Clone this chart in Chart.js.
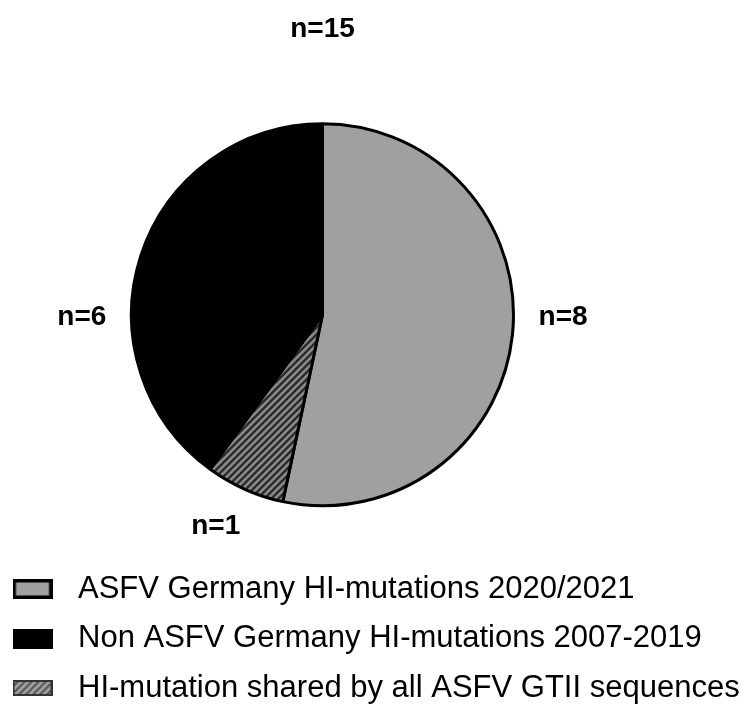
<!DOCTYPE html>
<html>
<head>
<meta charset="utf-8">
<script src="https://cdn.jsdelivr.net/npm/chart.js@4.4.1/dist/chart.umd.min.js"></script>
<style>
  html, body { margin: 0; padding: 0; background: #fff; }
  #wrap { width: 750px; height: 709px; position: relative; }
</style>
</head>
<body>
<div id="wrap"><canvas id="pieChart"></canvas></div>
<script>
    // slices go clockwise from 12 o'clock
    let categories = [
        "ASFV Germany HI-mutations 2020/2021",
        "HI-mutation shared by all ASFV GTII sequences",
        "Non ASFV Germany HI-mutations 2007-2019"
    ];
    let counts = [8, 1, 6];
    let legendOrder = [0, 2, 1];
    let totalText = "n=15";
    let sliceText = ["n=8", "n=1", "n=6"];

    Chart.defaults.font.family = "'Liberation Sans', Arial, sans-serif";
    Chart.defaults.color = "#000";

    // diagonal hatch tile
    function hatchTile(bg, line, size, lw) {
        let c = document.createElement("canvas");
        c.width = size; c.height = size;
        let g = c.getContext("2d");
        g.fillStyle = bg;
        g.fillRect(0, 0, size, size);
        g.strokeStyle = line;
        g.lineWidth = lw;
        g.beginPath();
        g.moveTo(-1, size + 1); g.lineTo(size + 1, -1);
        g.moveTo(-2, 2); g.lineTo(2, -2);
        g.moveTo(size - 2, size + 2); g.lineTo(size + 2, size - 2);
        g.stroke();
        return c;
    }

    let ctx = document.getElementById("pieChart").getContext("2d");
    let hatch = ctx.createPattern(hatchTile("#8a8a8a", "#2b2b2b", 7, 2.4), "repeat");
    let colors = ["#a0a0a0", hatch, "#000000"];

    // legend icons (drawn as point-style images)
    function icon(fill, stroke, lw, h) {
        let c = document.createElement("canvas");
        c.width = 40; c.height = h;
        let g = c.getContext("2d");
        g.fillStyle = fill;
        g.fillRect(0, 0, 40, h);
        if (lw > 0) {
            g.strokeStyle = stroke;
            g.lineWidth = lw;
            g.strokeRect(lw / 2, lw / 2, 40 - lw, h - lw);
        }
        return c;
    }
    let smallHatch = hatchTile("#a0a0a0", "#555", 7, 2);
    let hatchIcon = icon("#a0a0a0", "#333", 0, 16);
    let hg = hatchIcon.getContext("2d");
    hg.fillStyle = hg.createPattern(smallHatch, "repeat");
    hg.fillRect(0, 0, 40, 16);
    hg.strokeStyle = "#333"; hg.lineWidth = 2;
    hg.strokeRect(1, 1, 38, 14);
    let icons = [icon("#a0a0a0", "#000", 3.5, 20), hatchIcon, icon("#000", "#000", 0, 20)];

    // empty box on the right so the pie sits left of centre
    let rightSpacer = {
        id: "rightSpacer",
        beforeInit(chart) {
            Chart.layouts.addBox(chart, {
                position: "right",
                weight: 0,
                fullSize: false,
                options: {},
                isHorizontal: () => false,
                update(w, h) { this.width = 105; this.height = h; },
                draw() {}
            });
        }
    };

    let sliceLabels = {
        id: "sliceLabels",
        afterDatasetsDraw(chart, args, opts) {
            let c = chart.ctx;
            let meta = chart.getDatasetMeta(0);
            c.save();
            c.font = "bold 28px 'Liberation Sans', Arial, sans-serif";
            c.fillStyle = "#000";
            c.textAlign = "center";
            c.textBaseline = "middle";
            meta.data.forEach((arc, i) => {
                let p = arc.getProps(["x", "y", "startAngle", "endAngle", "outerRadius"], true);
                let a = (p.startAngle + p.endAngle) / 2 + opts.nudge[i] * Math.PI / 180;
                let hw = c.measureText(sliceText[i]).width / 2;
                let d = p.outerRadius + opts.gap + Math.abs(Math.cos(a)) * hw + Math.abs(Math.sin(a)) * 11;
                c.fillText(sliceText[i], p.x + Math.cos(a) * d, p.y + Math.sin(a) * d);
            });
            c.restore();
        }
    };

    new Chart(ctx, {
        type: "pie",
        data: {
            labels: categories,
            datasets: [{
                data: counts,
                backgroundColor: colors,
                borderColor: "#000",
                borderWidth: 3,
                radius: 191
            }]
        },
        options: {
            responsive: true,
            maintainAspectRatio: false,
            animation: false,
            events: [],
            layout: { padding: { left: -16, right: 0, top: 0, bottom: -4.5 } },
            plugins: {
                tooltip: { enabled: false },
                title: {
                    display: true,
                    fullSize: false,
                    text: totalText,
                    font: { size: 28, weight: "bold" },
                    padding: { top: 12, bottom: 29 }
                },
                legend: {
                    position: "bottom",
                    align: "start",
                    labels: {
                        usePointStyle: true,
                        pointStyleWidth: 60,
                        boxHeight: 20,
                        padding: 18.5,
                        font: { size: 31 },
                        color: "#000",
                        generateLabels: () => legendOrder.map(i => ({
                            text: categories[i],
                            pointStyle: icons[i],
                            fillStyle: "#000",
                            strokeStyle: "#000",
                            lineWidth: 0,
                            fontColor: "#000",
                            hidden: false,
                            index: i
                        }))
                    }
                },
                sliceLabels: { nudge: [-5.3, 2.8, -18.6], gap: 25 }
            }
        },
        plugins: [rightSpacer, sliceLabels]
    });
</script>
</body>
</html>
